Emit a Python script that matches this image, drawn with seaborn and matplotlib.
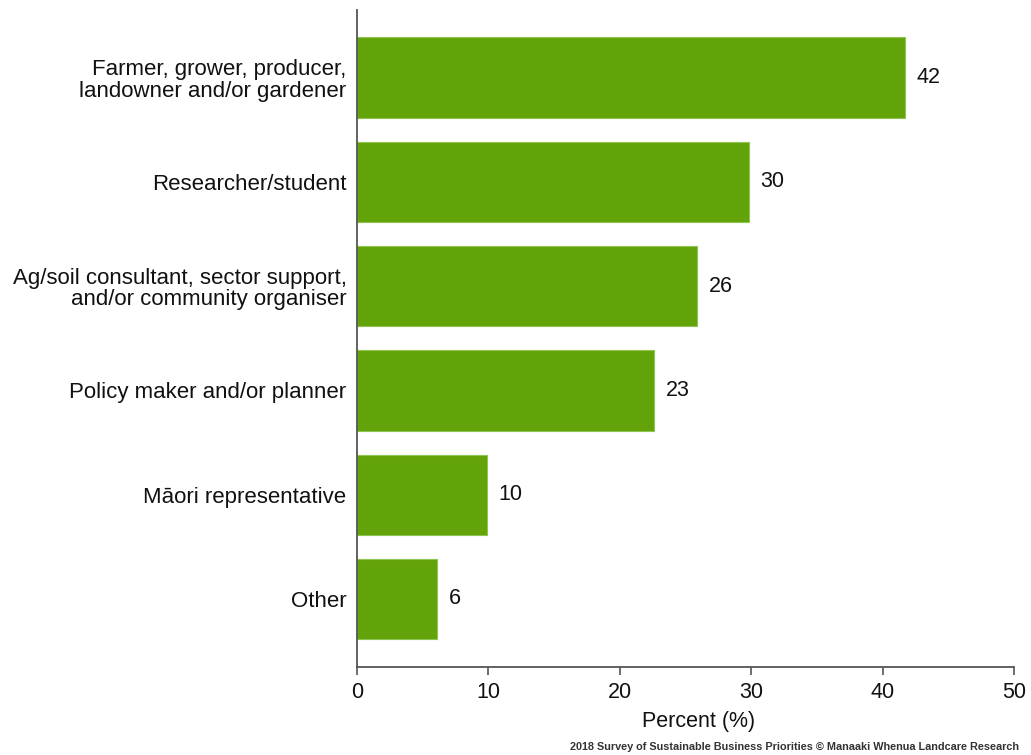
import matplotlib
matplotlib.use("Agg")
import matplotlib.pyplot as plt
import seaborn as sns
import pandas as pd

# values
roles = ["Farmer, grower, producer,\nlandowner and/or gardener",
         "Researcher/student",
         "Ag/soil consultant, sector support,\nand/or community organiser",
         "Policy maker and/or planner",
         "Māori representative",
         "Other"]
percent = [41.7, 29.8, 25.9, 22.6, 9.9, 6.1]
labels = ["42", "30", "26", "23", "10", "6"]

df = pd.DataFrame({"role": roles, "percent": percent})

sns.set_style("white")
plt.rcParams['font.family'] = ['Liberation Sans', 'DejaVu Sans']

fig = plt.figure(figsize=(10.31, 7.55), dpi=100)
ax = fig.add_axes([0.3462, 0.1169, 0.6373, 0.8701])

sns.barplot(data=df, x="percent", y="role", color="#63a30a", width=0.77,
            saturation=1, ax=ax, edgecolor="#8fc450", linewidth=0.8)

for i, (v, lab) in enumerate(zip(percent, labels)):
    ax.text(v + 0.9, i, lab, va="center", ha="left", fontsize=15.5, color="#111111")

ax.set_xlim(0, 50)
ax.set_ylim(5.65, -0.65)
ax.set_xticks([0, 10, 20, 30, 40, 50])
ax.set_ylabel("")
ax.set_xlabel("Percent (%)", fontsize=15.5, color="#111111")
ax.xaxis.set_label_coords(0.52, -0.067)
ax.tick_params(axis="x", which="both", bottom=True, length=6, width=1.2,
               color="#555555", labelsize=15.5, labelcolor="#111111", pad=5)
ax.tick_params(axis="y", left=False, labelsize=16, labelcolor="#111111", pad=4)
for lab in ax.get_yticklabels():
    lab.set_horizontalalignment("right")
    lab.set_multialignment("right")
    lab.set_linespacing(1.05)

sns.despine(ax=ax, top=True, right=True)
for s in ["left", "bottom"]:
    ax.spines[s].set_color("#555555")
    ax.spines[s].set_linewidth(1.3)

fig.text(0.553, 0.004, "2018 Survey of Sustainable Business Priorities © Manaaki Whenua Landcare Research",
         fontsize=7.8, fontweight="bold", color="#333333", ha="left", va="bottom")

fig.savefig("out.png", dpi=100)
